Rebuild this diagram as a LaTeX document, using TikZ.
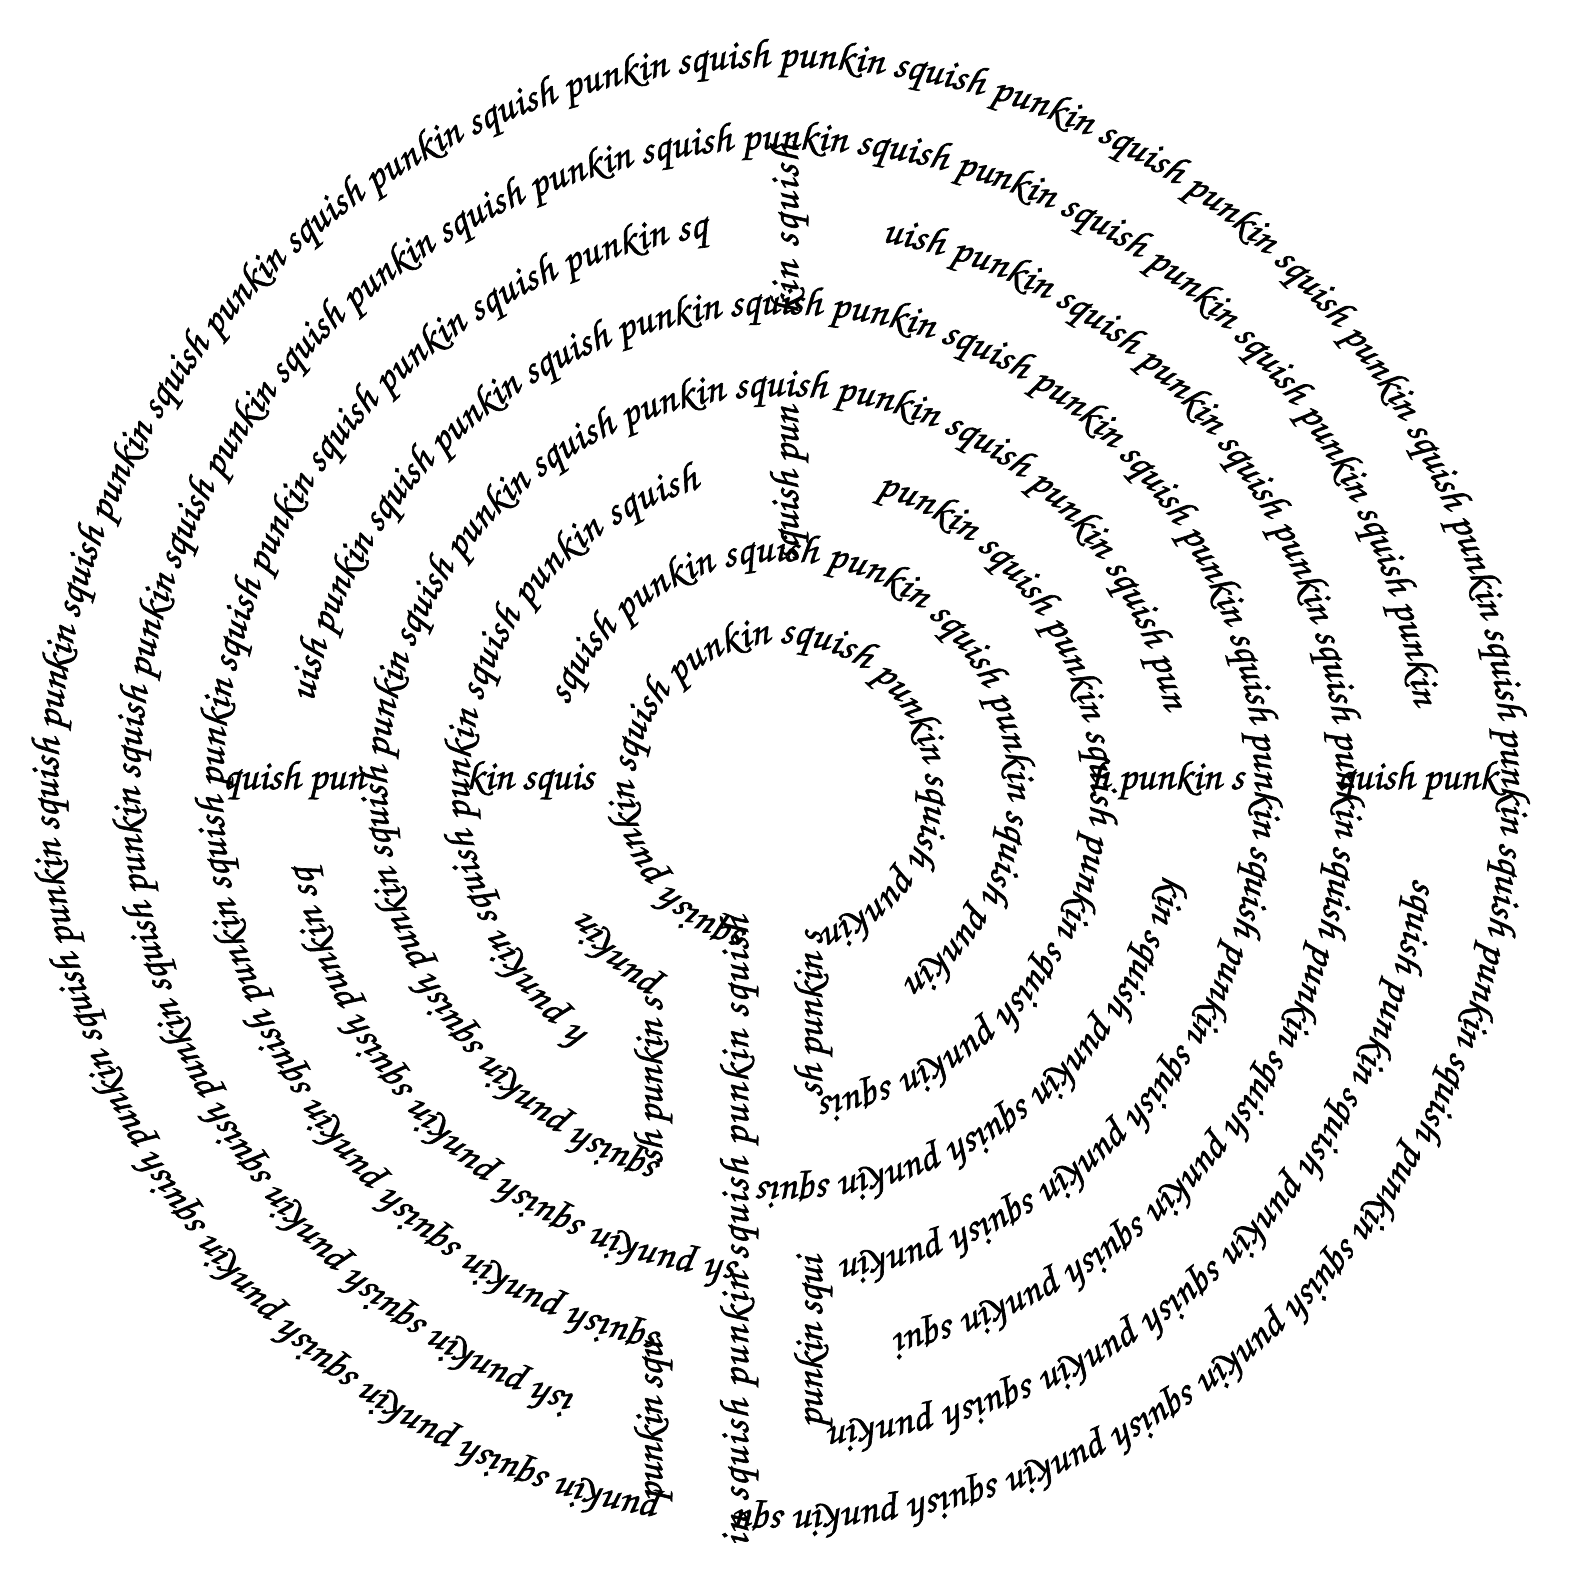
\documentclass[tikz,border=0pt]{standalone}
\usepackage{fontspec}
\setmainfont{texgyrechorus-mediumitalic.otf}[FakeBold=1.5]
\usetikzlibrary{decorations.text}
\newlength\plen
\def\fs{18}
\AtBeginDocument{%
  \settowidth\plen{\fontsize{10}{12}\selectfont punkin squish punkin squish punkin squish punkin squish }%
  \pgfmathsetmacro\fs{4220/\plen}%
  \xdef\fs{\fs}}
\newcommand\myfont{\fontsize{\fs}{\fs}\selectfont}
\def\pc{punkin squish }
\def\pcv{\pc\pc\pc\pc\pc}
% text set with its own spacing, from the start of the path
\newcommand\nseg[2]{\edef\segtext{\unexpanded{|\myfont|}#1}%
  \path[decorate,decoration={text along path,text/.expand once=\segtext}] #2;}
% text spread over the whole path
\newcommand\fseg[2]{\edef\segtext{\unexpanded{|\myfont|}#1}%
  \path[decorate,decoration={text along path,text align={fit to path},text/.expand once=\segtext}] #2;}
% clockwise arcs: #1 text, #2 start angle, #3 end angle, #4 radius
\newcommand\fring[4]{\fseg{#1}{(#2:#4) arc[start angle=#2,end angle=#3,radius=#4]}}
\newcommand\nring[4]{\nseg{#1}{(#2:#4) arc[start angle=#2,end angle=#3,radius=#4]}}
\begin{document}
\begin{tikzpicture}[x=0.5pt,y=0.5pt]
\useasboundingbox (-780,-793) rectangle (796,789);
% ---- circles of the labyrinth
\fring{\pcv\pcv\pcv\pcv punkin squ}{260.6}{-93}{722}
\fring{ish \pcv\pcv\pc\pc punkin}{251.5}{7.5}{640}
\fring{squish \pc\pc\pc punkin}{-8}{-85.5}{640}
\fring{squish \pcv\pc punkin sq}{257.8}{97.5}{557}
\fring{uish \pcv\pc punkin squi}{79.5}{-78}{557}
\fring{uish \pcv\pc\pc\pc\pc punkin}{169.5}{-82.5}{475}
\fring{sh \pc\pc punkin sq}{265.2}{189.5}{475}
\fring{squish \pcv\pc\pc pun}{252.5}{11.5}{393}
\fring{kin squish \pc punkin squis}{-12.5}{-93}{393}
\fring{h \pc\pc punkin squish}{232.3}{105}{311}
\fring{\pc\pc\pc punkin squis}{72}{-82.6}{311}
\nring{punkin}{238.8}{201.5}{228}
\fring{squish \pc\pc\pc punkin}{158.5}{-57}{228}
\fring{squish \pc\pc\pc punkin}{257.3}{-73.3}{146}
% ---- straight bars
\coordinate (T1a) at (18,227.3);   \coordinate (T1b) at (18,392.6);
\coordinate (T2a) at (18,474.7);   \coordinate (T2b) at (18,645);
\coordinate (L1a) at (-557,0);     \coordinate (L1b) at (-393,0);
\coordinate (L2a) at (-314,0);     \coordinate (L2b) at (-146,0);
\coordinate (R1a) at (311,0);      \coordinate (R1b) at (475,0);
\coordinate (R2a) at (557,0);      \coordinate (R2b) at (722,0);
\coordinate (B1a) at (-118,-712.3); \coordinate (B1b) at (-118,-544.4);
\coordinate (B2a) at (-118,-374.9); \coordinate (B2b) at (-118,-195.1);
\coordinate (B3a) at (-32,-757);   \coordinate (B3b) at (-32,-128);
\coordinate (B4a) at (42,-638.6);  \coordinate (B4b) at (42,-461);
\coordinate (B5a) at (42,-308.2);  \coordinate (B5b) at (42,-139.8);
\nseg{squish pun}{(T1a) -- (T1b)}
\fseg{kin squish}{(T2a) -- (T2b)}
\nseg{quish pun}{(L1a) -- (L1b)}
\nseg{kin squis}{(L2a) -- (L2b)}
\nseg{h punkin s}{(R1a) -- (R1b)}
\nseg{quish punk}{(R2a) -- (R2b)}
\nseg{punkin squ}{(B1a) -- (B1b)}
\nseg{sh punkin s}{(B2a) -- (B2b)}
\fseg{in squish punkin squish punkin squish}{(B3a) -- (B3b)}
\nseg{punkin squi}{(B4a) -- (B4b)}
\nseg{sh punkin s}{(B5a) -- (B5b)}
\end{tikzpicture}
\end{document}
